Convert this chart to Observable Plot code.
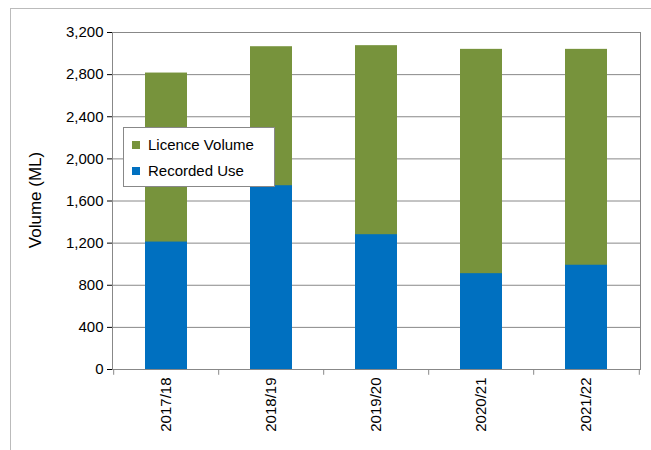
<!DOCTYPE html>
<html>
<head>
<meta charset="utf-8">
<script src="https://cdn.jsdelivr.net/npm/d3@7"></script>
<script src="https://cdn.jsdelivr.net/npm/@observablehq/plot@0.6"></script>
<style>
body { margin: 0; background: #fff; font-family: "Liberation Sans", Arial, sans-serif; }
#wrap { position: relative; width: 651px; height: 450px; }
#border { position: absolute; left: 10px; top: 8px; width: 650px; height: 450px; border-left: 1px solid #bbb; border-top: 1px solid #bbb; }
#legend { position: absolute; left: 123px; top: 127px; width: 150px; height: 58px; background: #fff; border: 1px solid #888; font-size: 15px; }
#ylabel { position: absolute; left: 36px; top: 200px; transform: translate(-50%, -50%) rotate(-90deg); font-size: 17px; white-space: nowrap; }
.item { position: absolute; left: 8px; display: flex; align-items: center; }
.sw { width: 8px; height: 8px; margin-right: 8px; }
</style>
</head>
<body>
<div id="wrap">
<div id="border"></div>
<div id="chart"></div>
<div id="ylabel">Volume (ML)</div>
<div id="legend">
  <div class="item" style="top:8px"><div class="sw" style="background:#77933c"></div>Licence Volume</div>
  <div class="item" style="top:34px"><div class="sw" style="background:#0070c0"></div>Recorded Use</div>
</div>
</div>
<script>
let years = ["2017/18", "2018/19", "2019/20", "2020/21", "2021/22"];
let licence = [2815, 3065, 3075, 3040, 3040];
let recorded = [1210, 1745, 1280, 910, 990];
let yTicks = [0, 400, 800, 1200, 1600, 2000, 2400, 2800, 3200];

let rows = years.map((y, i) => ({year: y, licence: licence[i], recorded: recorded[i]}));
let half = (651 - 112 - 11) / years.length / 2;

let plot = Plot.plot({
    width: 651,
    height: 450,
    marginLeft: 112,
    marginRight: 11,
    marginTop: 32,
    marginBottom: 81,
    style: {fontFamily: "Liberation Sans, Arial, sans-serif", fontSize: "15px", color: "#000", background: "transparent"},
    x: {domain: years, paddingInner: 0.6, paddingOuter: 0.3, label: null, tickRotate: -90, tickSize: 0, tickPadding: 8},
    y: {domain: [0, 3200], ticks: yTicks, tickFormat: d3.format(","), label: null, tickSize: 5},
    marks: [
        Plot.gridY(yTicks, {stroke: "#888", strokeOpacity: 1}),
        Plot.barY(rows, {x: "year", y: "licence", fill: "#77933c"}),
        Plot.barY(rows, {x: "year", y: "recorded", fill: "#0070c0"}),
        Plot.frame({stroke: "#888"}),
        Plot.ruleX(years, {x: d => d, dx: -half, y1: 0, y2: -55, stroke: "#888"}),
        Plot.ruleX(years.slice(-1), {x: d => d, dx: half, y1: 0, y2: -55, stroke: "#888"})
    ]
});
document.querySelector("#chart").append(plot);
</script>
</body>
</html>
